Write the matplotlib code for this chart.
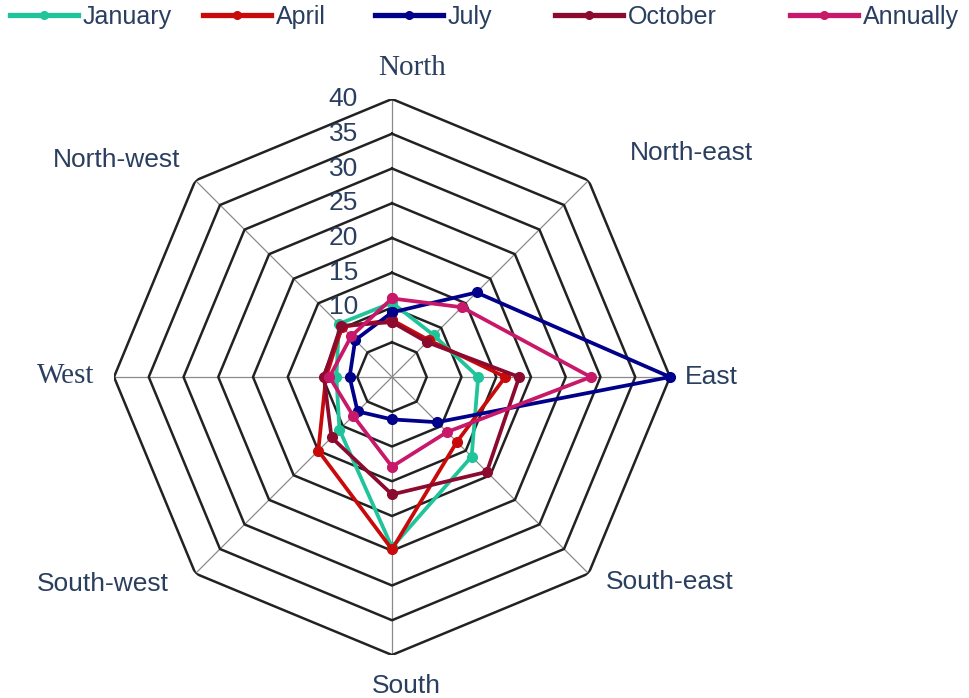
import numpy as np
import matplotlib.pyplot as plt
from matplotlib.lines import Line2D
from matplotlib.transforms import offset_copy

# Arah mata angin (searah jarum jam dari utara)
directions = ['North', 'North-east', 'East', 'South-east',
              'South', 'South-west', 'West', 'North-west']

# Frekuensi angin (%) per arah
january = [10.7, 8.5, 12.4, 16.2, 24.5, 10.7, 8.0, 10.8]
april = [8.2, 7.5, 16.3, 13.2, 24.8, 15.0, 9.5, 10.2]
july = [9.3, 17.2, 40.0, 9.2, 6.1, 7.0, 6.1, 7.5]
october = [7.9, 7.1, 18.3, 19.3, 16.9, 12.3, 9.8, 10.4]
annually = [11.3, 14.2, 28.6, 11.2, 12.9, 7.9, 9.0, 8.3]

series_names = ['January', 'April', 'July', 'October', 'Annually']
series_data = [january, april, july, october, annually]
series_colors = ['#1fc49a', '#c80a0a', '#00008b', '#8b0a2e', '#c8186a']

ring_values = [5, 10, 15, 20, 25, 30, 35, 40]
tick_labels = [10, 15, 20, 25, 30, 35, 40]

text_color = '#2a3f5f'
W, H = 969, 698

fig = plt.figure(figsize=(W / 100, H / 100), dpi=100)
cx, cy, R = 392, 377, 278
ax = fig.add_axes([(cx - R) / W, (H - cy - R) / H, 2 * R / W, 2 * R / H],
                  projection='polar')
ax.set_theta_zero_location('N')
ax.set_theta_direction(-1)
ax.set_ylim(0, 40)
ax.grid(False)
ax.spines['polar'].set_visible(False)
ax.set_xticks([])
ax.set_yticks([])
ax.patch.set_alpha(0)

theta = np.deg2rad(np.arange(len(directions)) * 45)
theta_closed = np.append(theta, theta[0])

# garis arah (abu-abu tipis)
for t in theta:
    ax.plot([t, t], [0, 40], color='#8a8a8a', lw=0.9, zorder=1)

# cincin segi delapan
for r in ring_values:
    ax.plot(theta_closed, [r] * len(theta_closed), color='#222222', lw=1.8, zorder=1)

# label skala radial di sebelah kiri sumbu utara
label_tf = offset_copy(ax.transData, fig=fig, x=-34 / 100 * 72, y=0, units='points')
for v in tick_labels:
    ax.text(0, v, str(v), transform=label_tf, ha='right', va='center',
            fontsize=19, color=text_color, family='Liberation Sans')

# data
handles = []
for name, vals, col in zip(series_names, series_data, series_colors):
    vals_closed = vals + [vals[0]]
    line, = ax.plot(theta_closed, vals_closed, color=col, lw=2.7, marker='o',
                    markersize=7, clip_on=False, zorder=3)
    handles.append(line)

# label arah
label_pos = {
    'North': (412, 68, 'center', 'serif'),
    'North-east': (692, 153, 'center', 'sans'),
    'East': (685, 377, 'left', 'sans'),
    'South-east': (670, 582, 'center', 'sans'),
    'South': (406, 686, 'center', 'sans'),
    'South-west': (103, 584, 'center', 'sans'),
    'West': (66, 376, 'center', 'serif'),
    'North-west': (117, 160, 'center', 'sans'),
}
for name, (x, y, ha, kind) in label_pos.items():
    fam = 'Liberation Serif' if kind == 'serif' else 'Liberation Sans'
    size = 21 if kind == 'serif' else 19
    fig.text(x / W, 1 - y / H, name, ha=ha, va='center', fontsize=size,
             family=fam, color=text_color)

# legenda horizontal di atas
legend_x = [10, 203, 375, 555, 790]
for x, h, name in zip(legend_x, handles, series_names):
    lh = Line2D([0], [0], color=h.get_color(), lw=3.8, marker='o', markersize=5.5)
    fig.legend(handles=[lh], labels=[name], loc='upper left',
               bbox_to_anchor=(x / W, 1 - 5 / H), frameon=False,
               prop={'family': 'Liberation Sans', 'size': 18},
               labelcolor=text_color, handlelength=2.7, handletextpad=0.2,
               borderpad=0, borderaxespad=0)

fig.savefig('out.png', dpi=100)
